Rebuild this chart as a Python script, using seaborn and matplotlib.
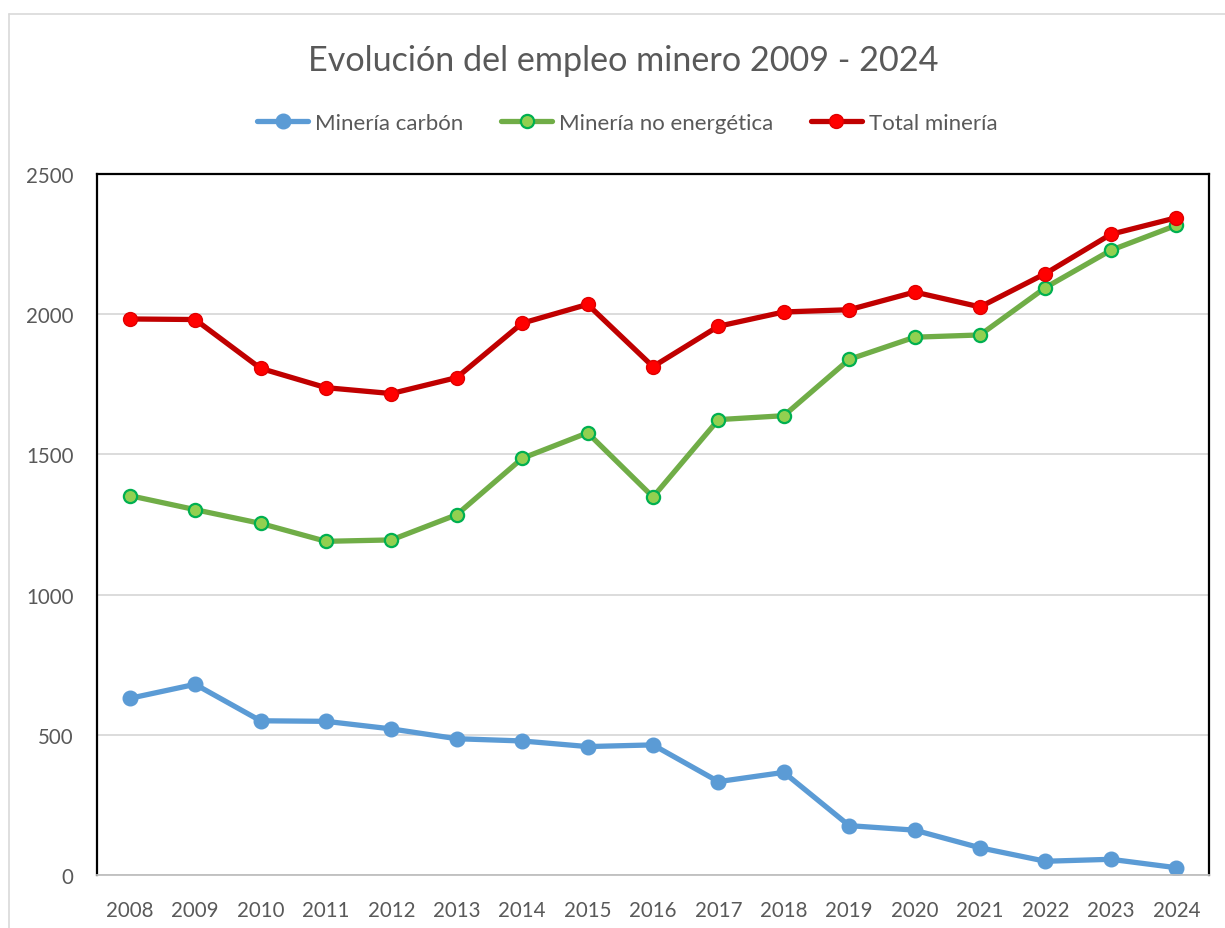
import pandas as pd
import matplotlib.pyplot as plt
import seaborn as sns
from matplotlib.lines import Line2D

# === DATA ===
years = [str(y) for y in range(2008, 2025)]
carbon = [630, 680, 550, 548, 521, 486, 478, 458, 464, 333, 366, 176, 160, 97, 49, 56, 26]
no_energetica = [1353, 1303, 1254, 1190, 1195, 1285, 1486, 1577, 1348, 1624, 1638, 1839, 1918, 1926, 2095, 2228, 2317]
total = [1983, 1981, 1807, 1738, 1717, 1774, 1968, 2035, 1813, 1957, 2008, 2016, 2079, 2026, 2145, 2285, 2344]

labels = ["Minería carbón", "Minería no energética", "Total minería"]
yticks = [0, 500, 1000, 1500, 2000, 2500]

TXT = "#595959"

# === PLOT ===
sns.set_theme(style="white")
plt.rcParams["font.family"] = ["Lato", "DejaVu Sans"]

fig = plt.figure(figsize=(12.25, 9.29), dpi=100)
ax = fig.add_axes([97 / 1225, 1 - 876 / 929, (1209 - 97) / 1225, (876 - 175) / 929])

df = pd.DataFrame({"year": years, "carbon": carbon, "noen": no_energetica, "total": total})

styles = [
    ("carbon", dict(color="#5B9BD5", marker="o", markersize=10.5, markerfacecolor="#5B9BD5",
                    markeredgecolor="#5B9BD5", markeredgewidth=1)),
    ("noen", dict(color="#70AD47", marker="o", markersize=9.5, markerfacecolor="#92D050",
                  markeredgecolor="#00B050", markeredgewidth=1.6)),
    ("total", dict(color="#C00000", marker="o", markersize=10, markerfacecolor="#FF0000",
                   markeredgecolor="#E00000", markeredgewidth=1)),
]

handles = []
for (col, st), lab in zip(styles, labels):
    sns.lineplot(data=df, x="year", y=col, ax=ax, linewidth=3.8, sort=False, **st)
    handles.append(Line2D([0], [0], linewidth=3.8, **st))

ax.set_xlim(-0.5, len(years) - 0.5)
ax.set_ylim(0, 2500)
ax.set_yticks(yticks)
ax.set_xlabel("")
ax.set_ylabel("")
ax.yaxis.grid(True, color="#D9D9D9", linewidth=1.3)
ax.set_axisbelow(True)
ax.tick_params(axis="both", length=0, labelsize=14.8, colors=TXT)
ax.tick_params(axis="x", pad=18)
ax.tick_params(axis="y", pad=17)

for side in ["left", "top", "right"]:
    ax.spines[side].set_color("black")
    ax.spines[side].set_linewidth(1.6)
ax.spines["bottom"].set_color("#BFBFBF")
ax.spines["bottom"].set_linewidth(1.3)

fig.text(0.5085, 1 - 61 / 929, "Evolución del empleo minero 2009 - 2024", ha="center", va="center",
         fontsize=24.6, color=TXT)

fig.legend(handles, labels, loc="center", bbox_to_anchor=(0.512, 1 - 124 / 929), ncol=3,
           frameon=False, fontsize=16, labelcolor=TXT, handlelength=2.3, handletextpad=0.3,
           columnspacing=1.7)

# outer chart border (light gray, left and top only visible)
fig.add_artist(Line2D([9 / 1225, 9 / 1225], [0, 1 - 15 / 929], color="#D9D9D9", linewidth=1.2))
fig.add_artist(Line2D([9 / 1225, 1], [1 - 15 / 929, 1 - 15 / 929], color="#D9D9D9", linewidth=1.2))

fig.savefig("out.png", dpi=100, facecolor="white")
